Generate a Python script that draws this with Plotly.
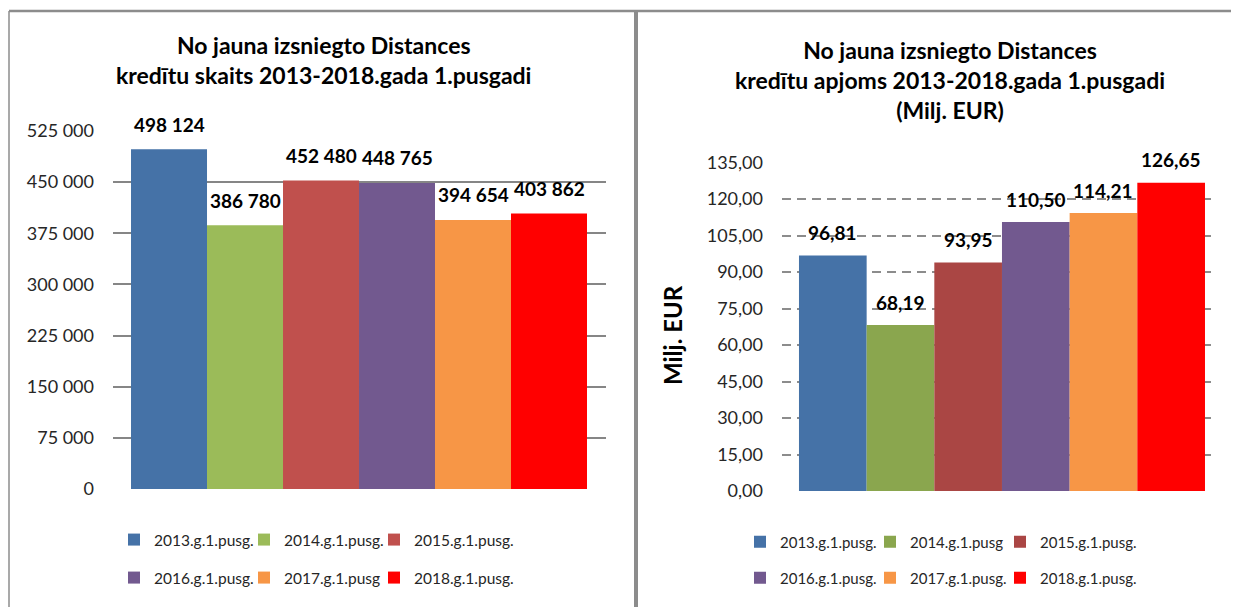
import plotly.graph_objects as go

# ---------------- data ----------------
left_labels = ["2013.g.1.pusg.", "2014.g.1.pusg.", "2015.g.1.pusg.",
               "2016.g.1.pusg.", "2017.g.1.pusg", "2018.g.1.pusg."]
left_values = [498124, 386780, 452480, 448765, 394654, 403862]
left_colors = ["#4572A7", "#9BBB59", "#C0504D", "#72598F", "#F79646", "#FF0000"]
left_ticks = [0, 75000, 150000, 225000, 300000, 375000, 450000, 525000]
left_ticktext = ["0", "75 000", "150 000", "225 000", "300 000", "375 000", "450 000", "525 000"]

right_labels = ["2013.g.1.pusg.", "2014.g.1.pusg", "2015.g.1.pusg.",
                "2016.g.1.pusg.", "2017.g.1.pusg.", "2018.g.1.pusg."]
right_values = [96.81, 68.19, 93.95, 110.50, 114.21, 126.65]
right_colors = ["#4572A7", "#8AA64E", "#AA4644", "#72598F", "#F79646", "#FF0000"]
right_ticks = [0, 15, 30, 45, 60, 75, 90, 105, 120, 135]

left_title = "No jauna izsniegto Distances<br>kredītu skaits 2013-2018.gada 1.pusgadi"
right_title = "No jauna izsniegto Distances<br>kredītu apjoms 2013-2018.gada 1.pusgadi<br>(Milj. EUR)"
right_ytitle = "Milj. EUR"

# The page body adds an 8px offset; compensate so screen pixels match.
OFF = 8
W, H = 1239 - OFF, 607 - OFF
FONT = "Lato"

def px(x):
    return (x - OFF) / W

def py(y):
    return 1 - (y - OFF) / H

fig = go.Figure()

for i, (lab, val, col) in enumerate(zip(left_labels, left_values, left_colors)):
    fig.add_trace(go.Bar(
        x=[i], y=[val], name=lab, marker=dict(color=col, line=dict(width=0)),
        width=1, xaxis="x", yaxis="y",
        legend="legend" if i < 3 else "legend2", hoverinfo="skip"))

for i, (lab, val, col) in enumerate(zip(right_labels, right_values, right_colors)):
    fig.add_trace(go.Bar(
        x=[i], y=[val], name=lab, marker=dict(color=col, line=dict(width=0)),
        width=1, xaxis="x2", yaxis="y2",
        legend="legend3" if i < 3 else "legend4", hoverinfo="skip"))

# invisible spacer entries so the last legend entry of each row is not clipped
for lg, ax in [("legend", "y"), ("legend2", "y"), ("legend3", "y2"), ("legend4", "y2")]:
    fig.add_trace(go.Bar(x=[None], y=[None], name=" ",
                         marker=dict(color="rgba(0,0,0,0)",
                                     line=dict(width=0, color="rgba(0,0,0,0)")),
                         xaxis="x" if ax == "y" else "x2", yaxis=ax, legend=lg,
                         hoverinfo="skip"))

annotations = []
for i, val in enumerate(left_values):
    annotations.append(dict(
        x=i, y=val, xref="x", yref="y", text="<b>%s</b>" % f"{val:,}".replace(",", " "),
        showarrow=False, yshift=25, xanchor="center", yanchor="middle",
        font=dict(family=FONT, size=19, color="#000000")))
for i, val in enumerate(right_values):
    annotations.append(dict(
        x=i, y=val, xref="x2", yref="y2", text="<b>%s</b>" % f"{val:.2f}".replace(".", ","),
        showarrow=False, yshift=23, xanchor="center", yanchor="middle",
        font=dict(family=FONT, size=19, color="#000000")))

annotations.append(dict(x=px(323), y=py(60), xref="paper", yref="paper",
                        text="<b>%s</b>" % left_title.replace("<br>", "</b><br><b>"),
                        showarrow=False, align="center", xanchor="center", yanchor="middle",
                        font=dict(family=FONT, size=23, color="#000000")))
annotations.append(dict(x=px(950), y=py(80), xref="paper", yref="paper",
                        text="<b>%s</b>" % right_title.replace("<br>", "</b><br><b>"),
                        showarrow=False, align="center", xanchor="center", yanchor="middle",
                        font=dict(family=FONT, size=23, color="#000000")))
annotations.append(dict(x=px(672), y=py(335), xref="paper", yref="paper",
                        text="<b>%s</b>" % right_ytitle, textangle=-90,
                        showarrow=False, xanchor="center", yanchor="middle",
                        font=dict(family=FONT, size=24, color="#000000")))

shapes = [
    dict(type="line", xref="paper", yref="paper", x0=px(9), x1=1, y0=py(11), y1=py(11),
         line=dict(color="#8C8C8C", width=2.5)),
    dict(type="line", xref="paper", yref="paper", x0=px(9), x1=px(9), y0=py(11), y1=0,
         line=dict(color="#8C8C8C", width=1.5)),
    dict(type="line", xref="paper", yref="paper", x0=px(636), x1=px(636), y0=py(11), y1=0,
         line=dict(color="#8C8C8C", width=4)),
]

legend_common = dict(orientation="h", xanchor="left", yanchor="middle",
                     bgcolor="rgba(0,0,0,0)", borderwidth=0, traceorder="normal",
                     entrywidthmode="pixels", itemwidth=30)

fig.update_layout(
    width=W, height=H,
    margin=dict(l=0, r=0, t=0, b=0, autoexpand=False),
    paper_bgcolor="white", plot_bgcolor="white",
    barmode="overlay", showlegend=True,
    separators=", ",
    font=dict(family=FONT, color="#262626"),
    xaxis=dict(domain=[px(113), px(606)], range=[-0.737, 5.75], visible=False,
               fixedrange=True, anchor="y"),
    yaxis=dict(domain=[py(489), py(131)], range=[0, 525000], tickvals=left_ticks,
               ticktext=left_ticktext, showgrid=True, gridcolor="#868686", gridwidth=2,
               zeroline=False, showline=False, ticks="", ticklabelstandoff=18,
               anchor="x", tickfont=dict(family=FONT, size=18, color="#262626")),
    xaxis2=dict(domain=[px(782), px(1215)], range=[-0.751, 5.648], visible=False,
                fixedrange=True, anchor="y2"),
    yaxis2=dict(domain=[py(491), py(162.5)], range=[0, 135], tickvals=right_ticks,
                tickformat=".2f", showgrid=True, gridcolor="#8C8C8C", gridwidth=2.2,
                griddash="9px,6px", zeroline=False, showline=False, ticks="",
                ticklabelstandoff=18, anchor="x2",
                tickfont=dict(family=FONT, size=18, color="#262626")),
    legend=dict(x=px(114), y=py(540), entrywidth=85,
                font=dict(family=FONT, size=15.5, color="#262626"), **legend_common),
    legend2=dict(x=px(114), y=py(578), entrywidth=85,
                 font=dict(family=FONT, size=15.5, color="#262626"), **legend_common),
    legend3=dict(x=px(740), y=py(542), entrywidth=85,
                 font=dict(family=FONT, size=15, color="#262626"), **legend_common),
    legend4=dict(x=px(740), y=py(578), entrywidth=85,
                 font=dict(family=FONT, size=15, color="#262626"), **legend_common),
    annotations=annotations,
    shapes=shapes,
)

fig.write_html("out.html")
